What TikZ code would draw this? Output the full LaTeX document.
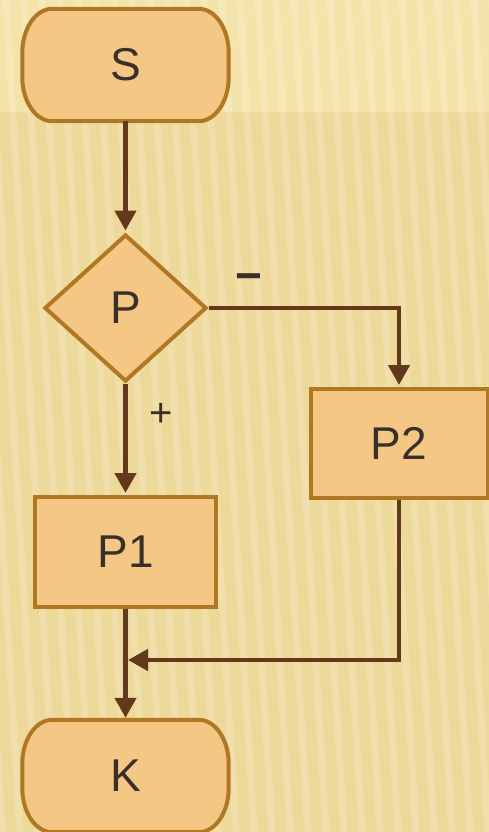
\documentclass[tikz,border=0pt]{standalone}
\usepackage{fontspec}
\setmainfont{Liberation Sans}
\usetikzlibrary{arrows.meta,shapes.geometric}
\definecolor{bglow}{HTML}{EDD999}
\definecolor{bgtop}{HTML}{F4E3AA}
\definecolor{boxfill}{HTML}{F4C784}
\definecolor{boxline}{HTML}{B17722}
\definecolor{arrowcol}{HTML}{62391A}
\definecolor{txtcol}{HTML}{3B2F2A}
\newcommand\stadiumshape[1]{%
  \draw[boxline,line width=4pt,fill=boxfill]
    ([xshift=30pt]#1.north west) -- ([xshift=-30pt]#1.north east)
    arc[start angle=90,end angle=0,x radius=30pt,y radius=44pt]
    -- ([yshift=44pt]#1.south east)
    arc[start angle=0,end angle=-90,x radius=30pt,y radius=44pt]
    -- ([xshift=30pt]#1.south west)
    arc[start angle=270,end angle=180,x radius=30pt,y radius=44pt]
    -- ([yshift=-44pt]#1.north west)
    arc[start angle=180,end angle=90,x radius=30pt,y radius=44pt] -- cycle;}
\begin{document}
\begin{tikzpicture}[x=1pt,y=1pt,
  lbl/.style={text=txtcol,font=\fontsize{46}{46}\selectfont},
  box/.style={lbl,draw=boxline,fill=boxfill,line width=4pt,inner sep=0pt},
  term/.style={lbl,inner sep=0pt,minimum width=206pt,minimum height=112pt},
  arr/.style={arrowcol,line width=4.5pt,-{Triangle[width=21pt,length=20pt]}}]
\useasboundingbox (0,0) rectangle (489,-832);
% background
\begin{scope}
\clip (0,0) rectangle (489,-832);
\fill[bglow] (0,0) rectangle (489,-832);
\fill[bgtop] (0,0) rectangle (489,-112);
\foreach \i in {-120,-102,...,560}{
  \draw[white,opacity=0.18,line width=7pt] (\i,0) -- (\i+50,-832);
}
\end{scope}
% nodes
\node[term] (S) at (125.5,-65) {};
\stadiumshape{S}
\node[lbl] at (S) {S};
\node[term] (K) at (125.5,-776) {};
\stadiumshape{K}
\node[lbl] at (K) {K};
\node[box,diamond,minimum width=162pt,minimum height=147pt] (P) at (125.5,-308) {P};
\node[box,minimum width=181pt,minimum height=110pt] (P1) at (125.5,-552) {P1};
\node[box,minimum width=177pt,minimum height=109pt] (P2) at (399,-443.5) {P2};
\coordinate (m) at (128,-660);
% connectors
\draw[arr,shorten >=2pt] (S.south) -- (P.north);
\draw[arr,shorten >=2pt] (P.east) -| (P2.north);
\draw[arr,shorten >=2pt] (P.south) -- (P1.north);
\draw[arr,shorten >=2pt] (P1.south) -- (K.north);
\draw[arr] (P2.south) |- (m);
% labels
\node[lbl,inner sep=0pt,font=\fontsize{46}{46}\selectfont\bfseries] (minus) at (249,-283) {−};
\node[lbl,inner sep=0pt,font=\fontsize{40}{40}\selectfont] (plus) at (161,-414.5) {+};
\end{tikzpicture}
\end{document}
